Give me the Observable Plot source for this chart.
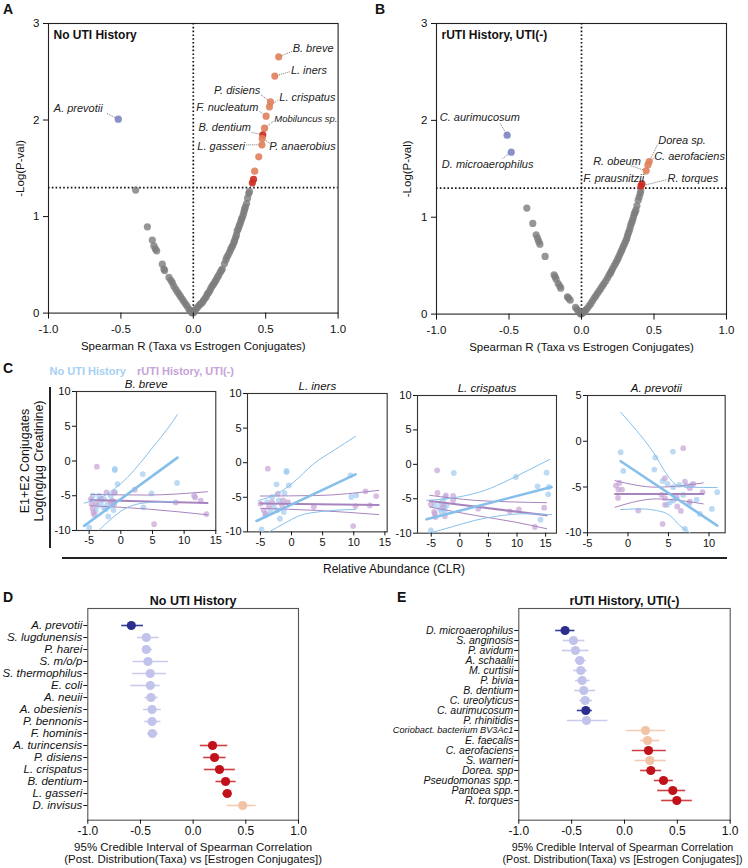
<!DOCTYPE html>
<html><head><meta charset="utf-8">
<script src="https://cdn.jsdelivr.net/npm/d3@7"></script>
<script src="https://cdn.jsdelivr.net/npm/@observablehq/plot@0.6"></script>
<style>
body{margin:0;background:#fff;}
#root{position:relative;width:748px;height:868px;font-family:"Liberation Sans",Arial,sans-serif;overflow:hidden;background:#fff;}
.abs{position:absolute;white-space:nowrap;}
#root svg{position:absolute;overflow:visible;background:transparent;max-width:none;}
</style></head><body><div id="root"></div>
<script>
// ---------------- DATA ----------------
// Panel A: volcano, No UTI History  [Spearman R, -log10 p]
const grayA = [
 [-0.398,1.274],[-0.317,0.894],[-0.283,0.756],[-0.272,0.697],[-0.262,0.665],[-0.253,0.645],[-0.214,0.507],[-0.203,0.456],
 [-0.198,0.44],[-0.168,0.369],[-0.155,0.34],[-0.145,0.317],[-0.135,0.28],[-0.122,0.249],[-0.11,0.22],[-0.099,0.197],
 [-0.088,0.17],[-0.076,0.145],[-0.065,0.12],[-0.053,0.093],[-0.042,0.07],[-0.03,0.041],[-0.02,0.025],[-0.012,0.006],[-0.004,0.002],
 [0.005,0.01],[0.012,0.03],[0.02,0.045],[0.03,0.06],[0.04,0.08],[0.05,0.095],[0.062,0.11],[0.07,0.13],[0.08,0.15],[0.09,0.17],
 [0.097,0.197],[0.105,0.21],[0.115,0.235],[0.122,0.26],[0.131,0.283],[0.14,0.30],[0.15,0.325],[0.158,0.345],[0.166,0.369],
 [0.175,0.39],[0.185,0.42],[0.193,0.44],[0.2,0.456],[0.215,0.51],[0.225,0.55],[0.23,0.576],[0.24,0.60],[0.25,0.63],[0.258,0.66],
 [0.265,0.68],[0.272,0.70],[0.28,0.73],[0.285,0.75],[0.292,0.783],[0.298,0.81],[0.303,0.852],[0.31,0.87],[0.316,0.90],
 [0.322,0.922],[0.328,0.95],[0.333,0.975],[0.338,0.99],[0.345,1.02],[0.35,1.05],[0.354,1.077],[0.36,1.10],[0.368,1.135],
 [0.375,1.19],[0.383,1.239],[0.388,1.26]
];
const hiA = [
 ["A. prevotii",-0.518,2.009,"neg"],["B. breve",0.590,2.655,"pos"],["L. iners",0.563,2.455,"pos"],
 ["P. disiens",0.533,2.188,"pos"],["L. crispatus",0.526,2.137,"pos"],["F. nucleatum",0.503,2.040,"pos"],
 ["Mobiluncus sp.",0.492,1.916,"pos"],["B. dentium",0.480,1.847,"dark"],["P. anaerobius",0.476,1.808,"pos"],
 ["L. gasseri",0.474,1.743,"pos"],["",0.452,1.619,"pos"],["",0.424,1.470,"pos"],["",0.416,1.385,"dark"],["",0.408,1.350,"dark"]
];
// Panel B: volcano, rUTI History, UTI(-)
const grayB = [
 [-0.377,1.094],[-0.336,0.936],[-0.313,0.819],[-0.303,0.784],[-0.295,0.75],[-0.287,0.722],[-0.251,0.595],[-0.189,0.406],
 [-0.182,0.385],[-0.175,0.361],[-0.161,0.316],[-0.15,0.29],[-0.143,0.268],[-0.097,0.179],[-0.09,0.165],[-0.078,0.144],
 [-0.041,0.069],[-0.03,0.05],[-0.023,0.034],[-0.009,0.007],[-0.003,0.002],
 [0.005,0.008],[0.011,0.017],[0.02,0.03],[0.03,0.041],[0.04,0.06],[0.053,0.086],[0.065,0.11],[0.076,0.138],[0.088,0.165],
 [0.099,0.189],[0.11,0.215],[0.122,0.241],[0.133,0.265],[0.145,0.292],[0.155,0.315],[0.168,0.344],[0.18,0.375],[0.191,0.406],
 [0.2,0.425],[0.207,0.447],[0.215,0.47],[0.225,0.499],[0.235,0.525],[0.244,0.55],[0.252,0.575],[0.26,0.602],[0.268,0.63],
 [0.276,0.654],[0.283,0.68],[0.29,0.705],[0.298,0.73],[0.306,0.757],[0.312,0.78],[0.317,0.808],[0.323,0.835],[0.329,0.86],
 [0.335,0.89],[0.34,0.922],[0.346,0.945],[0.352,0.97],[0.358,1.0],[0.363,1.032],[0.369,1.05],[0.375,1.073],[0.382,1.118],
 [0.391,1.176],[0.398,1.21],[0.405,1.245],[0.409,1.273]
];
const hiB = [
 ["C. aurimucosum",-0.513,1.847,"neg"],["D. microaerophilus",-0.485,1.672,"neg"],["Dorea sp.",0.467,1.575,"pos"],
 ["C. aerofaciens",0.458,1.540,"pos"],["R. obeum",0.446,1.479,"pos"],["F. prausnitzii",0.417,1.345,"dark"],["R. torques",0.410,1.322,"dark"]
];
const volcanoTicksX = [-1,-0.5,0,0.5,1];
const volcanoTicksY = [0,1,2,3];
const pThreshold = 1.3;

// Panel C: scatter [CLR, log conjugates]
const breveBlue = [[-0.95,-1.15],[-0.95,-1.3],[-0.53,-3.32],[3.47,-1.88],[8.89,-3.17],[4.84,-4.66],[3.58,-6.68],[-4.42,-5.0],[-5.0,-9.57],[-2.0,-7.98],[-1.16,-7.07],[-2.63,-5.48],[-3.16,-5.96],[-2.1,-6.2],[-1.58,-5.0],[-0.9,-4.52],[-3.68,-6.44],[-2.74,-6.68],[-3.42,-5.0],[-2.37,-6.92],[-3.95,-7.16]];
const brevePurple = [[-3.79,-0.82],[2.21,-4.13],[-2.26,-4.52],[-1.05,-4.52],[5.26,-9.09],[8.68,-5.96],[11.58,-5.0],[11.74,-5.24],[12.63,-5.72],[13.53,-7.64],[-4.63,-6.2],[-4.47,-6.83],[-4.32,-7.4],[-4.21,-7.74],[-4.74,-5.48],[-3.16,-5.48],[-1.32,-5.72],[-1.05,-6.2],[-1.58,-5.96],[-3.95,-6.06]];
const breveBlueFit = [[-5.79,-9.33],[8.95,0.48]];
const breveBlueUp = [[-5.79,-6.06],[-3.16,-5.24],[-1.05,-4.04],[1.05,-2.36],[3.16,-0.19],[5.26,2.21],[7.37,4.62],[8.95,6.68]];
const breveBlueLo = [[-3.42,-9.95],[-1.58,-8.37],[0.53,-6.92],[2.63,-6.2],[4.74,-5.96],[6.84,-5.87],[8.95,-5.87]];
const brevePurpleFit = [[-4.74,-5.63],[13.68,-6.06]];
const brevePurpleUp = [[-4.74,-4.81],[4,-4.9],[13.68,-4.42]];
const brevePurpleLo = [[-4.74,-6.44],[4,-6.9],[13.68,-7.74]];

const inersBlue = [[-0.8,-1.2],[-0.8,-1.35],[-2.41,-3.13],[-0.43,-3.28],[9.48,-1.83],[9.59,-4.96],[10.4,-4.72],[-4.82,-9.64],[-1.23,-7.13],[-1.87,-8.1],[-2.84,-6.41],[-3.91,-5.69],[-3.11,-4.96],[-2.04,-5.45],[-1.12,-4.39],[-3.37,-7.13],[-4.18,-7.61],[-2.3,-6.89]];
const inersPurple = [[-3.8,-0.87],[-2.2,-4.48],[-1.34,-5.45],[3.59,-6.41],[9.91,-9.16],[11.89,-4.14],[12.59,-6.17],[10.28,-6.27],[-4.98,-5.93],[-4.45,-6.89],[-4.18,-7.37],[-3.11,-5.69],[-1.5,-6.17],[-0.59,-5.69],[-3.64,-6.41],[13.6,-4.83]];
const inersBlueFit = [[-5.62,-8.43],[10.28,-1.69]];
const inersBlueUp = [[-5.25,-5.45],[-2.3,-4.48],[0.37,-2.8],[3.59,-0.14],[6.8,1.78],[10.28,3.81]];
const inersBlueLo = [[-3.64,-10.02],[-1.23,-8.82],[1.45,-7.61],[4.12,-7.13],[6.8,-6.89],[10.28,-6.75]];
const inersPurpleFit = [[-5,-5.9],[14,-6.1]];
const inersPurpleUp = [[-5,-4.82],[4,-4.75],[14,-4.0]];
const inersPurpleLo = [[-5,-6.6],[4,-6.9],[14,-7.5]];

const crispBlue = [[-1.05,-1.26],[9.8,-1.84],[15.16,-1.21],[13.59,-3.2],[15.57,-3.29],[15.45,-4.36],[14.11,-8.04],[-5.07,-9.59],[-4.37,-5.96],[-3.5,-6.44],[-3.21,-6.92],[-2.62,-6.68],[-2.92,-5.23],[-2.51,-4.75],[-3.32,-5.71],[-2.33,-5.96],[-2.74,-6.2]];
const crispPurple = [[-3.97,-0.87],[-3.91,-4.16],[-2.45,-4.5],[-1.17,-4.6],[-5.07,-5.81],[-4.37,-7.17],[-4.26,-7.65],[-2.62,-7.55],[-1.17,-5.23],[3.21,-6.44],[8.75,-6.83],[10.32,-6.54],[13.12,-9.1],[14.75,-6.3],[-4.49,-6.92],[-2.92,-6.1]];
const crispBlueFit = [[-5.83,-7.99],[16.03,-3.29]];
const crispBlueUp = [[-5.83,-5.23],[-0.29,-4.75],[4.37,-3.78],[8.45,-2.32],[11.95,-0.87],[15.74,0.73]];
const crispBlueLo = [[-5.25,-9.98],[-1.46,-9.1],[2.62,-8.14],[6.71,-7.51],[11.37,-7.17],[16.03,-7.31]];
const crispPurpleFit = [[-5.25,-5.33],[15.16,-7.41]];
const crispPurpleUp = [[-5.25,-4.5],[2.62,-5.23],[9.62,-5.47],[15.16,-5.57]];
const crispPurpleLo = [[-5.25,-6.2],[2.62,-7.41],[9.62,-8.38],[15.16,-9.35]];

const prevBlue = [[-0.9,-1.2],[-0.58,-3.24],[3.37,-1.78],[3.25,-3.09],[5.55,-1.13],[4.27,-4.33],[4.89,-4.66],[5.59,-5.02],[6.33,-4.77],[7.23,-4.84],[7.85,-4.77],[6.82,-5.86],[5.18,-6.66],[5.59,-6.48],[4.85,-6.95],[7.56,-6.84],[8.47,-6.37],[11.02,-5.57],[10.36,-7.39],[8.88,-7.94],[7.03,-9.57]];
const prevPurple = [[6.82,-0.76],[4.56,-4.04],[-1.48,-4.84],[-1.07,-4.55],[-1.19,-5.28],[-0.74,-5.28],[-1.23,-6.19],[1.27,-7.57],[4.27,-9.03],[7.03,-4.4],[8.06,-4.66],[7.64,-5.13],[9.21,-5.57],[4.15,-5.86],[4.56,-6.22],[6.08,-7.13],[6.53,-7.61],[7.64,-6.59],[4.56,-6.95],[6.0,-6.11]];
const prevBlueFit = [[-0.9,-2.18],[11.02,-9.21]];
const prevBlueUp = [[-0.9,3.17],[1.07,1.16],[3.12,-1.2],[4.77,-3.57],[6.0,-4.77],[7.64,-5.02],[11.02,-5.06]];
const prevBlueLo = [[-0.9,-7.46],[1.48,-7.39],[3.53,-7.57],[5.18,-8.12],[6.41,-9.21],[7.64,-10.0]];
const prevPurpleFit = [[-1.6,-5.75],[9.29,-5.75]];
const prevPurpleUp = [[-1.6,-4.3],[3.53,-5.02],[9.29,-4.55]];
const prevPurpleLo = [[-1.6,-7.21],[3.53,-6.3],[9.29,-6.84]];

const scatterTicksX = [-5,0,5,10,15];
const scatterTicksX4 = [-5,0,5,10];
const scatterTicksY = [-10,-5,0,5,10];
const scatterTicksY4 = [-10,-5,0,5];

// Panel D: forest, No UTI History
const forestDNames = ["A. prevotii","S. lugdunensis","P. harei","S. m/o/p","S. thermophilus","E. coli","A. neuii","A. obesienis","P. bennonis","F. hominis","A. turincensis","P. disiens","L. crispatus","B. dentium","L. gasseri","D. invisus"];
const forestDMid  = [-0.587,-0.445,-0.445,-0.429,-0.407,-0.407,-0.40,-0.39,-0.39,-0.387,0.184,0.203,0.25,0.308,0.324,0.47];
const forestDLow  = [-0.683,-0.533,-0.486,-0.575,-0.581,-0.597,-0.461,-0.476,-0.464,-0.438,0.063,0.095,0.101,0.212,0.276,0.317];
const forestDHigh = [-0.476,-0.328,-0.39,-0.238,-0.257,-0.318,-0.337,-0.308,-0.311,-0.337,0.324,0.308,0.396,0.403,0.362,0.593];
const forestDGroup = ["strongNeg","neg","neg","neg","neg","neg","neg","neg","neg","neg","pos","pos","pos","pos","pos","weakPos"];
// Panel E: forest, rUTI History, UTI(-)
const forestENames = ["D. microaerophilus","S. anginosis","P. avidum","A. schaalii","M. curtisii","P. bivia","B. dentium","C. ureolyticus","C. aurimucosum","P. rhinitidis","Coriobact. bacterium BV3Ac1","E. faecalis","C. aerofaciens","S. warneri","Dorea. spp","Pseudomonas spp.","Pantoea spp.","R. torques"];
const forestEMid  = [-0.562,-0.483,-0.464,-0.423,-0.413,-0.40,-0.385,-0.372,-0.366,-0.36,0.199,0.218,0.227,0.24,0.249,0.369,0.457,0.495];
const forestELow  = [-0.656,-0.584,-0.593,-0.473,-0.486,-0.467,-0.476,-0.429,-0.451,-0.546,0.016,0.148,0.069,0.095,0.148,0.278,0.309,0.347];
const forestEHigh = [-0.473,-0.379,-0.341,-0.366,-0.356,-0.331,-0.278,-0.306,-0.309,-0.161,0.385,0.328,0.391,0.391,0.347,0.457,0.574,0.637];
const forestEGroup = ["strongNeg","neg","neg","neg","neg","neg","neg","neg","strongNeg","neg","weakPos","weakPos","pos","weakPos","pos","pos","pos","pos"];
const forestTicks = [-1,-0.5,0,0.5,1];

// ---------------- LAYOUT / STYLE ----------------
const FONT = '"Liberation Sans", Arial, Helvetica, sans-serif';
const root = document.getElementById("root");
const volcColors = {neg:"#7b84c1", pos:"#e0805b", dark:"#cc2b1f"};
const forestDot = {strongNeg:"#2b2e8d", neg:"#c2c3ea", pos:"#c1121c", weakPos:"#f2c3a6"};
const forestBar = {strongNeg:"#3a3d97", neg:"#c9caee", pos:"#cf4044", weakPos:"#f3c9b1"};
const BLUEPT = "#9fcbf0", BLUELN = "#86bfea", PURPT = "#c6a2d6", PURLN = "#a884bf";

// annotation layout for volcano labels: name, text x, text y, anchor, leader start x, y, font size
const labA = [
 ["B. breve",0.686,2.745,"start",0.681,2.71,11],
 ["L. iners",0.674,2.516,"start",0.665,2.50,11],
 ["P. disiens",0.463,2.302,"end",0.467,2.261,11],
 ["L. crispatus",0.594,2.233,"start",0.582,2.206,11],
 ["F. nucleatum",0.449,2.13,"end",0.458,2.088,11],
 ["Mobiluncus sp.",0.559,2.009,"start",0.552,1.985,9.5],
 ["B. dentium",0.398,1.923,"end",0.403,1.871,11],
 ["L. gasseri",0.357,1.722,"end",0.366,1.743,11],
 ["P. anaerobius",0.525,1.722,"start",0.532,1.757,11],
 ["A. prevotii",-0.626,2.119,"end",-0.596,2.068,11]
];
const labB = [
 ["C. aurimucosum",-0.977,2.03,"start",-0.561,1.968,11],
 ["D. microaerophilus",-0.963,1.541,"start",-0.545,1.606,11],
 ["Dorea sp.",0.529,1.789,"start",0.524,1.748,11],
 ["C. aerofaciens",0.501,1.631,"start",0.497,1.610,11],
 ["R. obeum",0.409,1.579,"end",0.340,1.531,11],
 ["F. prausnitzii",0.432,1.403,"end",0.421,1.376,11],
 ["R. torques",0.593,1.403,"start",0.584,1.386,11]
];

function place(opts, frame, pad) {
  const [l,t,r,b] = frame, [pl,pt,pr,pb] = pad;
  const svg = Plot.plot({
    ...opts,
    width: r - l + pl + pr, height: b - t + pt + pb,
    marginLeft: pl, marginTop: pt, marginRight: pr, marginBottom: pb,
    style: {fontFamily: FONT, fontSize: "11px", background: "transparent", overflow: "visible", color: "#111"}
  });
  svg.style.left = (l - pl) + "px";
  svg.style.top = (t - pt) + "px";
  root.appendChild(svg);
  return svg;
}
function html(text, left, cy, o = {}) {
  const size = o.size || 12;
  const d = document.createElement("div");
  d.className = "abs";
  d.textContent = text;
  d.style.fontSize = size + "px";
  d.style.lineHeight = size + "px";
  d.style.top = (cy - size / 2) + "px";
  d.style.left = left + "px";
  d.style.fontWeight = o.weight || "normal";
  d.style.color = o.color || "#111";
  if (o.center) d.style.transform = "translateX(-50%)";
  root.appendChild(d);
}
function rect(left, top, w, h) {
  const d = document.createElement("div");
  d.className = "abs";
  Object.assign(d.style, {left: left + "px", top: top + "px", width: w + "px", height: h + "px", background: "#222"});
  root.appendChild(d);
}
const fmt1 = d => d.toFixed(1);
const fmt0 = d => String(d);
const mid = {lineAnchor: "middle", textAnchor: "middle"};

// ---------------- VOLCANO ----------------
function volcano(gray, hi, labs, frame, pad, title, ylabDx) {
  const pts = hi.map(([name, r, p, g]) => ({name, r, p, g}));
  const byName = new Map(pts.filter(d => d.name).map(d => [d.name, d]));
  const L = labs.map(([name, lx, ly, anchor, sx, sy, fs]) => ({name, lx, ly, anchor, sx, sy, fs, pt: byName.get(name)}));
  const textMarks = L.map(d => Plot.text([d], {x: "lx", y: "ly", text: "name", textAnchor: d.anchor, lineAnchor: "middle", fontStyle: "italic", fontSize: d.fs, fill: "#222"}));
  place({
    x: {domain: [-1, 1]}, y: {domain: [0, 3]}, color: {type: "identity"},
    marks: [
      Plot.frame({stroke: "#222", strokeWidth: 1.1}),
      Plot.ruleX([0], {stroke: "#111", strokeWidth: 1.7, strokeDasharray: "1.6,2.2"}),
      Plot.ruleY([pThreshold], {stroke: "#111", strokeWidth: 1.7, strokeDasharray: "1.6,2.2"}),
      Plot.dot(gray, {x: d => d[0], y: d => d[1], r: 3.6, fill: "#7c7c7c", fillOpacity: 0.8, stroke: "none"}),
      Plot.link(L, {x1: "sx", y1: "sy", x2: d => d.pt.r, y2: d => d.pt.p, stroke: "#555", strokeWidth: 0.8, strokeDasharray: "1,1"}),
      Plot.dot(pts, {x: "r", y: "p", r: 3.6, fill: d => volcColors[d.g], fillOpacity: 0.9, stroke: "none"}),
      ...textMarks,
      Plot.axisX({ticks: volcanoTicksX, tickFormat: fmt1, tickSize: 6, tickPadding: 6, fontSize: 11.5, label: null}),
      Plot.axisY({ticks: volcanoTicksY, tickFormat: fmt0, tickSize: 5, tickPadding: 4, fontSize: 11.5, label: null}),
      Plot.text([title], {frameAnchor: "top-left", dx: 5, dy: 12, fontWeight: "bold", fontSize: 12, textAnchor: "start", lineAnchor: "middle"}),
      Plot.text(["Spearman R (Taxa vs Estrogen Conjugates)"], {frameAnchor: "bottom", dy: 33, fontSize: 11.5, ...mid}),
      Plot.text(["-Log(P-val)"], {frameAnchor: "left", dx: ylabDx, rotate: -90, fontSize: 11.5, ...mid})
    ]
  }, frame, pad);
}
volcano(grayA, hiA, labA, [47.7, 22.7, 337.3, 312.3], [48, 23, 36, 40], "No UTI History", -28);
volcano(grayB, hiB, labB, [436.3, 22.7, 726.3, 313.3], [62, 23, 21, 40], "rUTI History, UTI(-)", -29);

// ---------------- SCATTER (C) ----------------
function scatter(frame, xd, yd, xt, yt, title, S, extra = []) {
  const xy = {x: d => d[0], y: d => d[1]};
  place({
    x: {domain: xd}, y: {domain: yd},
    marks: [
      Plot.frame({stroke: "#333", strokeWidth: 1.1}),
      Plot.dot(S.blue, {...xy, r: 2.9, fill: BLUEPT, fillOpacity: 0.7, stroke: "none"}),
      Plot.dot(S.purple, {...xy, r: 2.9, fill: PURPT, fillOpacity: 0.7, stroke: "none"}),
      Plot.line(S.pUp, {...xy, stroke: PURLN, strokeWidth: 1, curve: "monotone-x"}),
      Plot.line(S.pLo, {...xy, stroke: PURLN, strokeWidth: 1, curve: "monotone-x"}),
      Plot.line(S.pFit, {...xy, stroke: PURLN, strokeWidth: 2}),
      Plot.line(S.bUp, {...xy, stroke: BLUELN, strokeWidth: 1, curve: "monotone-x"}),
      Plot.line(S.bLo, {...xy, stroke: BLUELN, strokeWidth: 1, curve: "monotone-x"}),
      Plot.line(S.bFit, {...xy, stroke: BLUELN, strokeWidth: 2.6}),
      Plot.axisX({ticks: xt, tickFormat: fmt0, tickSize: 4, tickPadding: 2, fontSize: 11, label: null}),
      Plot.axisY({ticks: yt, tickFormat: fmt0, tickSize: 4, tickPadding: 2, fontSize: 11, label: null}),
      Plot.text([title], {frameAnchor: "top", dy: -7, fontStyle: "italic", fontSize: 11.5, ...mid}),
      ...extra
    ]
  }, frame, [80, 20, 12, 22]);
}
scatter([75.7, 391, 215, 530], [-7, 15], [-10, 10], scatterTicksX, scatterTicksY, "B. breve",
  {blue: breveBlue, purple: brevePurple, bFit: breveBlueFit, bUp: breveBlueUp, bLo: breveBlueLo, pFit: brevePurpleFit, pUp: brevePurpleUp, pLo: brevePurpleLo},
  [Plot.text(["E1+E2 Conjugates"], {frameAnchor: "left", dx: -51.5, rotate: -90, fontSize: 12.5, ...mid}),
   Plot.text(["Log(ng/µg Creatinine)"], {frameAnchor: "left", dx: -38, rotate: -90, fontSize: 12.5, ...mid})]);
scatter([247, 393.3, 386.7, 531.7], [-7.07, 15.37], [-10, 10], scatterTicksX, scatterTicksY, "L. iners",
  {blue: inersBlue, purple: inersPurple, bFit: inersBlueFit, bUp: inersBlueUp, bLo: inersBlueLo, pFit: inersPurpleFit, pUp: inersPurpleUp, pLo: inersPurpleLo});
scatter([416.7, 395, 555.7, 532.7], [-7.4, 16.9], [-10, 10], scatterTicksX, scatterTicksY, "L. crispatus",
  {blue: crispBlue, purple: crispPurple, bFit: crispBlueFit, bUp: crispBlueUp, bLo: crispBlueLo, pFit: crispPurpleFit, pUp: crispPurpleUp, pLo: crispPurpleLo});
scatter([587.3, 395, 725, 532.3], [-5, 12], [-10, 5], scatterTicksX4, scatterTicksY4, "A. prevotii",
  {blue: prevBlue, purple: prevPurple, bFit: prevBlueFit, bUp: prevBlueUp, bLo: prevBlueLo, pFit: prevPurpleFit, pUp: prevPurpleUp, pLo: prevPurpleLo});

// ---------------- FOREST (D, E) ----------------
function forest(names, midv, low, high, group, frame, rowRange, title, smallName, labSize, xlabSize, xlabDx) {
  const rows = names.map((n, i) => ({n, m: midv[i], lo: low[i], hi: high[i], g: group[i]}));
  const pt = 20;
  const top = frame[1] - pt;
  place({
    x: {domain: [-1, 1]},
    y: {type: "point", domain: names, range: [rowRange[0] - top, rowRange[1] - top]},
    color: {type: "identity"},
    marks: [
      Plot.frame({stroke: "#555", strokeWidth: 1.1}),
      Plot.link(rows, {x1: "lo", x2: "hi", y1: "n", y2: "n", stroke: d => forestBar[d.g], strokeWidth: 1.6}),
      Plot.dot(rows, {x: "m", y: "n", r: 4.6, fill: d => forestDot[d.g], stroke: "none"}),
      Plot.axisY({tickSize: 4, tickFormat: () => "", label: null}),
      Plot.text(rows.filter(d => d.n !== smallName), {y: "n", text: "n", frameAnchor: "left", dx: -5.5, textAnchor: "end", lineAnchor: "middle", fontStyle: "italic", fontSize: labSize}),
      Plot.text(rows.filter(d => d.n === smallName), {y: "n", text: "n", frameAnchor: "left", dx: -5.5, textAnchor: "end", lineAnchor: "middle", fontStyle: "italic", fontSize: 9.2}),
      Plot.axisX({ticks: forestTicks, tickFormat: fmt1, tickSize: 4, tickPadding: 2, fontSize: 12, label: null}),
      Plot.text([title], {frameAnchor: "top", dy: -7, fontWeight: "bold", fontSize: 12.5, ...mid}),
      Plot.text(["95% Credible Interval of Spearman Correlation"], {frameAnchor: "bottom", dy: 27, dx: xlabDx, fontSize: xlabSize, ...mid}),
      Plot.text(["(Post. Distribution(Taxa) vs [Estrogen Conjugates])"], {frameAnchor: "bottom", dy: 39.5, dx: xlabDx, fontSize: xlabSize, ...mid})
    ]
  }, frame, [frame[0] - (frame[0] > 374 ? 374 : 0), pt, 15, 46]);
}
forest(forestDNames, forestDMid, forestDLow, forestDHigh, forestDGroup, [87.3, 608.3, 298, 820], [619, 811.7], "No UTI History", null, 11.5, 11.5, 0);
forest(forestENames, forestEMid, forestELow, forestEHigh, forestEGroup, [518.3, 608.3, 729.7, 820], [618.3, 812.7], "rUTI History, UTI(-)", "Coriobact. bacterium BV3Ac1", 10.5, 10.7, -2);

// ---------------- DECORATIONS ----------------
html("A", 3, 8.5, {size: 14, weight: "bold"});
html("B", 375, 8.5, {size: 14, weight: "bold"});
html("C", 3, 368, {size: 14, weight: "bold"});
html("D", 3, 597, {size: 14, weight: "bold"});
html("E", 397, 597, {size: 14, weight: "bold"});
html("No UTI History", 49.5, 371, {size: 11, weight: "bold", color: "#a6d0f2"});
html("rUTI History, UTI(-)", 137, 371, {size: 11, weight: "bold", color: "#c8a2d8"});
rect(49.3, 387, 1.5, 161);
rect(62, 557, 665, 1.5);
html("Relative Abundance (CLR)", 394, 568.5, {size: 12, center: true});
</script></body></html>
